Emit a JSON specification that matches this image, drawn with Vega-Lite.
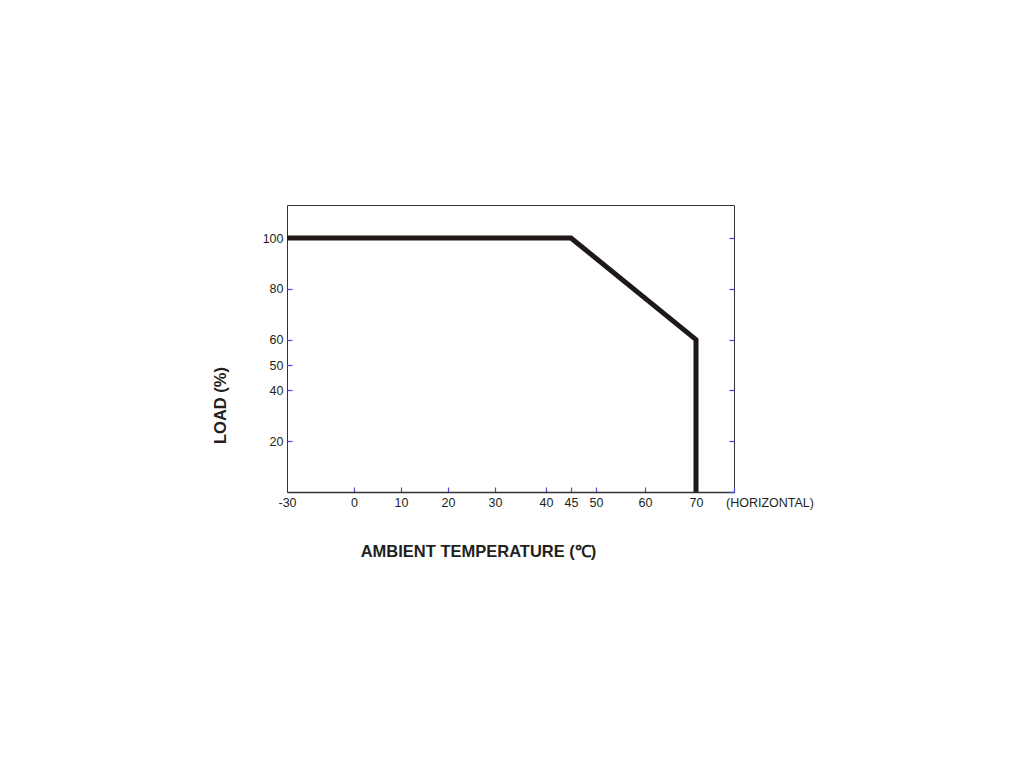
{
  "$schema": "https://vega.github.io/schema/vega-lite/v6.json",
  "width": 447,
  "height": 287,
  "autosize": {"type": "none"},
  "padding": {"left": 287, "top": 205, "right": 290, "bottom": 276},
  "background": "white",
  "config": {
    "view": {"stroke": "#333333", "strokeWidth": 1},
    "axis": {
      "labelFont": "Liberation Sans",
      "labelFontSize": 12.5,
      "labelColor": "#231f20",
      "labelFlush": false,
      "titleFont": "Liberation Sans",
      "titleColor": "#231f20",
      "titleFontWeight": "bold",
      "titleFontSize": 16.5,
      "grid": false,
      "domain": false,
      "tickColor": "#4a4adf",
      "tickSize": -5,
      "tickWidth": 1.2
    }
  },
  "data": {
    "values": [
      {"seq": 1, "temp": -30, "load": 100},
      {"seq": 2, "temp": 45, "load": 100},
      {"seq": 3, "temp": 70, "load": 60},
      {"seq": 4, "temp": 70, "load": 0}
    ]
  },
  "layer": [
    {
      "mark": {"type": "line", "stroke": "#1e1816", "strokeWidth": 5, "strokeJoin": "miter", "strokeCap": "butt", "clip": true},
      "encoding": {
        "x": {
          "field": "temp",
          "type": "quantitative",
          "scale": {
            "domain": [-30, 0, 10, 20, 30, 40, 45, 50, 60, 70, 77.5],
            "range": [0, 67, 114, 161, 208, 259, 284, 309, 358, 409, 447],
            "nice": false,
            "zero": false
          },
          "axis": {
            "values": [-30, 0, 10, 20, 30, 40, 45, 50, 60, 70, 77.5],
            "labelExpr": "datum.value > 75 ? '' : toString(datum.value)",
            "tickColor": {"condition": {"test": "datum.value == -30", "value": "transparent"}, "value": "#4a4adf"},
            "labelPadding": 9,
            "domain": true,
            "domainColor": "#333333",
            "domainWidth": 1.5,
            "title": "AMBIENT TEMPERATURE (℃)",
            "titleX": 191,
            "titleY": 59,
            "titleAlign": "center",
            "titleBaseline": "middle"
          }
        },
        "y": {
          "field": "load",
          "type": "quantitative",
          "scale": {"domain": [0, 113], "nice": false},
          "axis": {
            "orient": "left",
            "values": [20, 40, 50, 60, 80, 100],
            "labelPadding": 9,
            "title": "LOAD (%)",
            "titleAngle": -90,
            "titleX": -67,
            "titleY": 200,
            "titleAlign": "center",
            "titleBaseline": "middle"
          }
        },
        "order": {"field": "seq", "type": "quantitative"}
      }
    },
    {
      "data": {"values": [{"label": "(HORIZONTAL)", "temp": 77.5, "load": 0}]},
      "mark": {"type": "text", "align": "left", "baseline": "top", "dx": -8, "dy": 5, "font": "Liberation Sans", "fontSize": 12.5, "color": "#231f20"},
      "encoding": {
        "x": {"field": "temp", "type": "quantitative"},
        "y": {
          "field": "load",
          "type": "quantitative",
          "axis": {
            "orient": "right",
            "values": [0, 20, 40, 60, 80, 100],
            "labels": false,
            "title": null
          }
        },
        "text": {"field": "label"}
      }
    }
  ],
  "resolve": {"axis": {"y": "independent"}}
}
